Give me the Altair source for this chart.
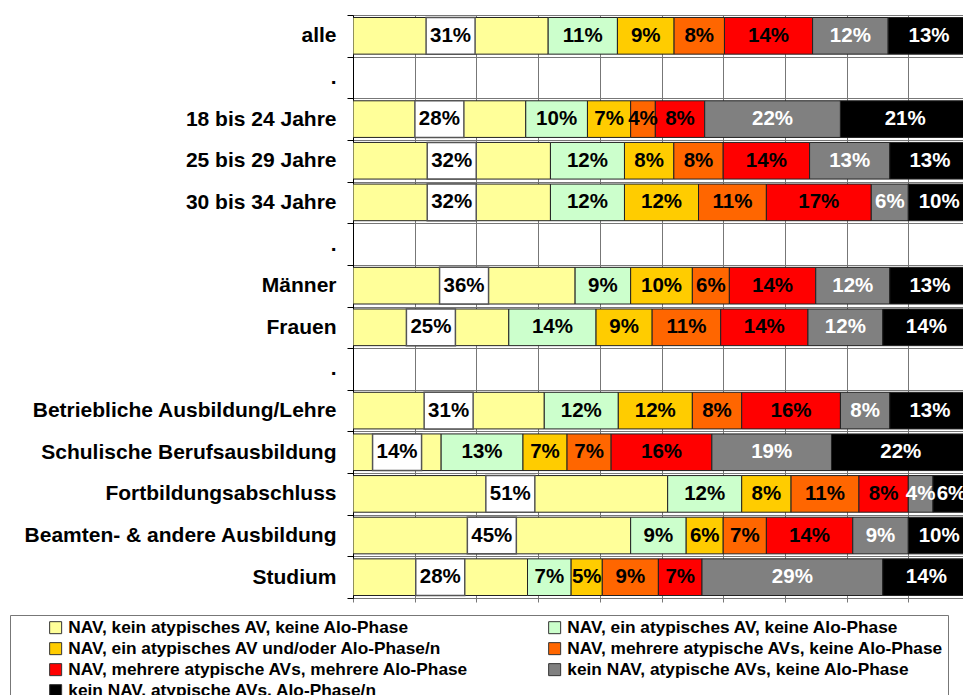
import altair as alt
import pandas as pd

# row order (separator rows are empty and shown as ".")
rows = ["alle", "sep1", "18 bis 24 Jahre", "25 bis 29 Jahre", "30 bis 34 Jahre", "sep2",
        "Männer", "Frauen", "sep3", "Betriebliche Ausbildung/Lehre",
        "Schulische Berufsausbildung", "Fortbildungsabschluss",
        "Beamten- & andere Ausbildung", "Studium"]
groups = [r for r in rows if not r.startswith("sep")]

series = ["NAV, kein atypisches AV, keine Alo-Phase",
          "NAV, ein atypisches AV, keine Alo-Phase",
          "NAV, ein atypisches AV und/oder Alo-Phase/n",
          "NAV, mehrere atypische AVs, keine Alo-Phase",
          "NAV, mehrere atypische AVs, mehrere Alo-Phase",
          "kein NAV, atypische AVs, keine Alo-Phase",
          "kein NAV, atypische AVs, Alo-Phase/n"]
colors = ["#FFFF99", "#CCFFCC", "#FFCC00", "#FF6600", "#FF0000", "#808080", "#000000"]

s1 = [31, 28, 32, 32, 36, 25, 31, 14, 51, 45, 28]
s2 = [11, 10, 12, 12, 9, 14, 12, 13, 12, 9, 7]
s3 = [9, 7, 8, 12, 10, 9, 12, 7, 8, 6, 5]
s4 = [8, 4, 8, 11, 6, 11, 8, 7, 11, 7, 9]
s5 = [14, 8, 14, 17, 14, 14, 16, 16, 8, 14, 7]
s6 = [12, 22, 13, 6, 12, 12, 8, 19, 4, 9, 29]
s7 = [13, 21, 13, 10, 13, 14, 13, 22, 6, 10, 14]
values = [s1, s2, s3, s4, s5, s6, s7]

records = []
for si, (name, vals) in enumerate(zip(series, values)):
    for g, v in zip(groups, vals):
        records.append({"row": g, "series": name, "order": si, "value": v})
df = pd.DataFrame(records)

FONT = "Liberation Sans, Arial, sans-serif"

# the picture shows the plot cut at the right page edge: 610 of 617 px of the 0-100 % axis
PLOT_W = 610
FULL_W = 617
XMAX = PLOT_W / FULL_W

yscale = alt.Scale(domain=rows, paddingInner=0, paddingOuter=0)
yaxis = alt.Axis(title=None, labelExpr="indexof(datum.label, 'sep') === 0 ? '.' : datum.label",
                 labelFont=FONT, labelFontSize=21, labelFontWeight="bold", labelColor="black",
                 labelLimit=400, labelPadding=11, tickSize=6, tickColor="black",
                 tickBand="extent", grid=True, gridColor="#777", gridWidth=1,
                 domainColor="black", domainWidth=1)
xscale = alt.Scale(domain=[0, XMAX], nice=False, zero=True)
xaxis = alt.Axis(title=None, labels=False, values=[i / 10 for i in range(10)], grid=True,
                 gridColor="#777", gridWidth=1, tickSize=4, tickColor="#777",
                 domainColor="#777")

base = alt.Chart(df).transform_stack(
    stack="value", groupby=["row"], sort=[alt.SortField("order", order="ascending")],
    as_=["x0", "x1"], offset="normalize"
).transform_calculate(mid="(datum.x0 + datum.x1) / 2", lbl="datum.value + '%'")

Y = alt.Y("row:N", scale=yscale, axis=yaxis, title=None)

bars = base.mark_bar(height={"band": 0.88}, stroke="#222", strokeWidth=1, clip=True).encode(
    y=Y,
    x=alt.X("x0:Q", scale=xscale, axis=xaxis, title=None),
    x2="x1:Q",
    color=alt.Color("series:N", scale=alt.Scale(domain=series, range=colors),
                    legend=alt.Legend(orient="none", legendX=-343, legendY=600, columns=2,
                                      direction="horizontal",
                                      title=None, symbolType="square", symbolSize=144,
                                      symbolStrokeColor="#333", symbolStrokeWidth=1,
                                      symbolOpacity=1,
                                      labelFont=FONT, labelFontSize=17.3, labelFontWeight="bold",
                                      labelColor="black", labelLimit=600,
                                      strokeColor="#777", fillColor="white", padding=4,
                                      rowPadding=3, columnPadding=44, symbolOffset=33,
                                      labelOffset=4, gridAlign="all")),
    order=alt.Order("order:Q"),
)

box = base.transform_filter("datum.order == 0").mark_bar(
    height={"band": 0.88}, xOffset=-24.5, x2Offset=24.5, fill="white",
    stroke="#555", strokeWidth=1.5
).encode(
    y=Y,
    x=alt.X("mid:Q", scale=xscale, axis=xaxis, title=None),
    x2="mid:Q",
)

text = base.mark_text(font=FONT, fontSize=20.5, fontWeight="bold", align="center",
                      baseline="middle").encode(
    y=Y,
    x=alt.X("mid:Q", scale=xscale, axis=xaxis, title=None),
    text="lbl:N",
    color=alt.condition("datum.order >= 5", alt.value("white"), alt.value("black")),
)

chart = alt.layer(bars, box, text).properties(
    width=PLOT_W, height=583, autosize="none",
    padding={"left": 345, "top": 7, "right": 0, "bottom": 97},
).configure_view(strokeWidth=0).configure(background="white")

chart.save("out.html", embed_options={"renderer": "svg", "actions": False})
